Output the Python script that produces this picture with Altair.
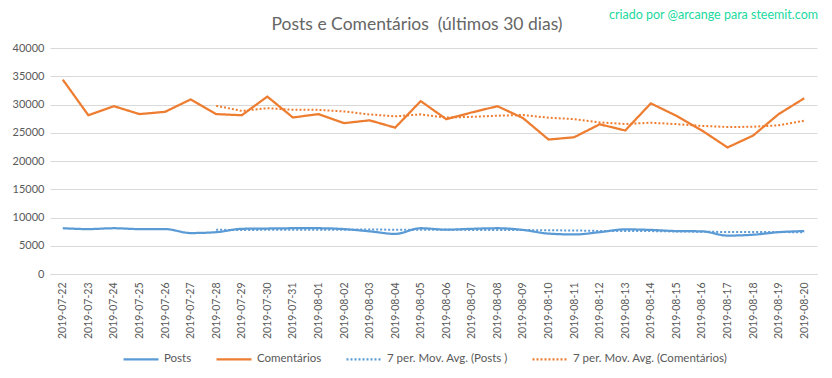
import altair as alt
import pandas as pd

dates = ["2019-07-22", "2019-07-23", "2019-07-24", "2019-07-25", "2019-07-26",
         "2019-07-27", "2019-07-28", "2019-07-29", "2019-07-30", "2019-07-31",
         "2019-08-01", "2019-08-02", "2019-08-03", "2019-08-04", "2019-08-05",
         "2019-08-06", "2019-08-07", "2019-08-08", "2019-08-09", "2019-08-10",
         "2019-08-11", "2019-08-12", "2019-08-13", "2019-08-14", "2019-08-15",
         "2019-08-16", "2019-08-17", "2019-08-18", "2019-08-19", "2019-08-20"]

posts = [8100, 7950, 8100, 7950, 7950, 7250, 7400, 8000, 8050, 8100,
         8100, 7950, 7550, 7100, 8100, 7850, 8000, 8100, 7800, 7150,
         7000, 7400, 7900, 7800, 7600, 7550, 6800, 6950, 7400, 7600]

comentarios = [34400, 28100, 29700, 28300, 28700, 30900, 28300, 28100, 31400, 27700,
               28300, 26700, 27200, 25900, 30600, 27400, 28600, 29700, 27600, 23800,
               24200, 26500, 25400, 30200, 28000, 25400, 22400, 24500, 28300, 31100]

series_labels = ["Posts", "Comentários",
                 "7 per. Mov. Avg. (Posts )", "7 per. Mov. Avg. (Comentários)"]
series_colors = ["#5B9BD5", "#ED7D31", "#5B9BD5", "#ED7D31"]
series_dashes = [[1, 0], [1, 0], [2, 2], [2, 2]]
y_ticks = [0, 5000, 10000, 15000, 20000, 25000, 30000, 35000, 40000]

title_text = "Posts e Comentários\u00a0 (últimos 30 dias)"
credit_text = "criado por @arcange para steemit.com"

rows = []
for i, d in enumerate(dates):
    rows.append({"date": d, "idx": i, "serie": "Posts", "label": "Posts", "valor": posts[i]})
    rows.append({"date": d, "idx": i, "serie": "Comentários", "label": "Comentários", "valor": comentarios[i]})
df = pd.DataFrame(rows)

FONT = "Lato"
GRAY = "#595959"

legend = alt.Legend(
    title=None, orient="none", legendX=72, legendY=292, direction="horizontal",
    columns=4, symbolType="stroke", symbolSize=1225, symbolStrokeWidth=2.25,
    labelFontSize=11.5, labelColor=GRAY, labelFont=FONT, columnPadding=20,
    labelOffset=4,
)

color = alt.Color("label:N", scale=alt.Scale(domain=series_labels, range=series_colors), legend=legend)
dash = alt.StrokeDash("label:N", scale=alt.Scale(domain=series_labels, range=series_dashes), legend=legend)

x = alt.X("date:O", sort=dates, scale=alt.Scale(type="point", padding=0.5),
          axis=alt.Axis(title=None, labelAngle=270, ticks=False, grid=False,
                        domainColor="#D9D9D9", labelPadding=8, labelFontSize=10.5,
                        labelColor=GRAY, labelFont=FONT))
yaxis = alt.Axis(title=None, values=y_ticks, format="d", ticks=False, domain=False,
                 gridColor="#D9D9D9", labelPadding=6, labelFontSize=11,
                 labelColor=GRAY, labelFont=FONT)
yscale = alt.Scale(domain=[0, 40000])

base = alt.Chart(df)

posts_line = base.transform_filter(alt.datum.serie == "Posts").mark_line(
    interpolate="monotone", strokeWidth=2.25
).encode(x=x, y=alt.Y("valor:Q", scale=yscale, axis=yaxis), color=color, strokeDash=dash)

com_line = base.transform_filter(alt.datum.serie == "Comentários").mark_line(
    strokeWidth=2.25
).encode(x=x, y=alt.Y("valor:Q", scale=yscale, axis=yaxis), color=color, strokeDash=dash)

ma = base.transform_window(
    ma="mean(valor)", n="count()", frame=[-6, 0], groupby=["serie"],
    sort=[alt.SortField("idx")]
).transform_filter("datum.n == 7").transform_calculate(
    label="'7 per. Mov. Avg. (' + (datum.serie == 'Posts' ? 'Posts )' : datum.serie + ')')"
).mark_line(strokeWidth=2).encode(
    x=x, y=alt.Y("ma:Q", scale=yscale, axis=yaxis), color=color, strokeDash=dash,
    detail="serie:N"
)

title = alt.Chart(pd.DataFrame({"t": [title_text]})).mark_text(
    font=FONT, fontSize=17.5, color="#666666", align="center", baseline="middle"
).encode(text="t:N", x=alt.value(367), y=alt.value(-23))

credit = alt.Chart(pd.DataFrame({"t": [credit_text]})).mark_text(
    font=FONT, fontSize=12.5, color="#20D9A0", align="right", baseline="middle"
).encode(text="t:N", x=alt.value(768), y=alt.value(-33))

chart = alt.layer(posts_line, com_line, ma, title, credit).properties(
    width=767, height=226,
    padding={"left": 42, "top": 40, "right": 7, "bottom": 96},
    autosize=alt.AutoSizeParams(type="none"),
    background="white",
).configure_view(stroke=None)

chart.save("out.html", embed_options={"renderer": "svg", "actions": False})
